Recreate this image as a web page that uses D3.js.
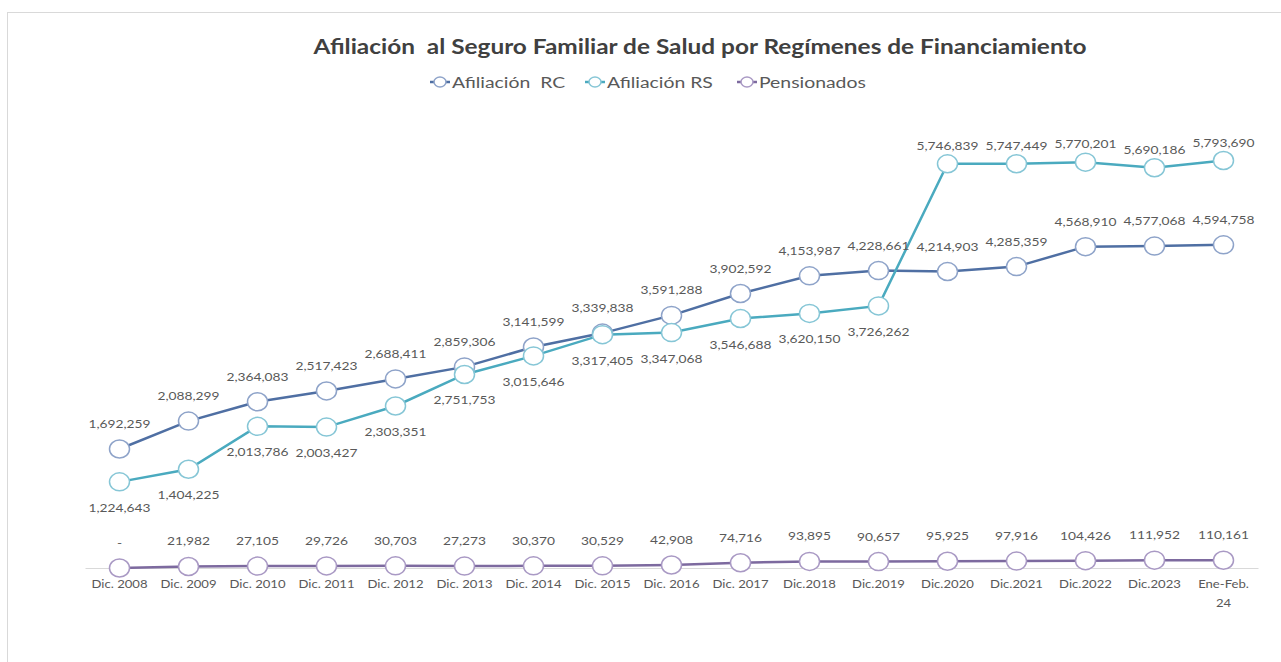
<!DOCTYPE html>
<html>
<head>
<meta charset="utf-8">
<script src="https://cdn.jsdelivr.net/npm/d3@7"></script>
<style>
  html, body { margin: 0; padding: 0; background: #fff; }
  svg { display: block; font-family: Lato, "Open Sans", sans-serif; }
  text { white-space: pre; }
</style>
</head>
<body>
<div id="chart"></div>
<script>
const categories = ['Dic. 2008', 'Dic. 2009', 'Dic. 2010', 'Dic. 2011', 'Dic. 2012', 'Dic. 2013',
  'Dic. 2014', 'Dic. 2015', 'Dic. 2016', 'Dic. 2017', 'Dic.2018', 'Dic.2019', 'Dic.2020',
  'Dic.2021', 'Dic.2022', 'Dic.2023', 'Ene-Feb. 24'];

const afiliacionRC = [1692259, 2088299, 2364083, 2517423, 2688411, 2859306, 3141599, 3339838,
  3591288, 3902592, 4153987, 4228661, 4214903, 4285359, 4568910, 4577068, 4594758];

const afiliacionRS = [1224643, 1404225, 2013786, 2003427, 2303351, 2751753, 3015646, 3317405,
  3347068, 3546688, 3620150, 3726262, 5746839, 5747449, 5770201, 5690186, 5793690];

const pensionados = [0, 21982, 27105, 29726, 30703, 27273, 30370, 30529, 42908, 74716, 93895,
  90657, 95925, 97916, 104426, 111952, 110161];

const seriesNames = ['Afiliación  RC', 'Afiliación RS', 'Pensionados'];

const W = 1281, H = 662;
const SX = 1.25; // the original text is drawn wide
const svg = d3.select('#chart').append('svg').attr('width', W).attr('height', H);

// chart frame
svg.append('rect')
  .attr('x', 7.5).attr('y', 12.5).attr('width', W).attr('height', H)
  .attr('fill', 'none').attr('stroke', '#d9d9d9');

const x = d3.scaleBand().domain(categories).range([85, 1258]);
const y = d3.scaleLinear().domain([0, 6000000]).range([568, 146]);
const fmt = d3.format(',');

const series = [
  { name: seriesNames[0], values: afiliacionRC, line: '#4f6fa3', marker: '#8ea3c9' },
  { name: seriesNames[1], values: afiliacionRS, line: '#4aaabf', marker: '#86c6d6' },
  { name: seriesNames[2], values: pensionados, line: '#7d6a9f', marker: '#a999c4' }
];

// x axis
const xAxis = svg.append('g')
  .attr('transform', `translate(0,${y(0)})`)
  .call(d3.axisBottom(x).tickSize(0).tickPadding(13));
xAxis.select('.domain').attr('stroke', '#d9d9d9');
xAxis.selectAll('.tick text')
  .attr('fill', '#595959')
  .attr('font-size', 10.5)
  .attr('font-family', 'Lato, sans-serif')
  .attr('transform', `scale(${SX},1)`)
  .each(function (d) {
    if (d === 'Ene-Feb. 24') {
      const t = d3.select(this).text(null);
      t.append('tspan').attr('x', 0).text('Ene-Feb.');
      t.append('tspan').attr('x', 0).attr('dy', '1.75em').text('24');
    }
  });

const cx = (i) => x(categories[i]) + x.bandwidth() / 2;

const line = d3.line()
  .x((d, i) => cx(i))
  .y((d) => y(d));

series.forEach((s) => {
  svg.append('path')
    .datum(s.values)
    .attr('fill', 'none')
    .attr('stroke', s.line)
    .attr('stroke-width', 2.5)
    .attr('d', line);
});

series.forEach((s) => {
  svg.append('g')
    .selectAll('ellipse')
    .data(s.values)
    .join('ellipse')
    .attr('cx', (d, i) => cx(i))
    .attr('cy', (d) => y(d))
    .attr('rx', 10)
    .attr('ry', 9)
    .attr('fill', '#fff')
    .attr('stroke', s.marker)
    .attr('stroke-width', 1.5);
});

// data labels
const labels = svg.append('g')
  .attr('font-size', 11)
  .attr('fill', '#595959')
  .attr('text-anchor', 'middle');

series.forEach((s, si) => {
  labels.append('g')
    .selectAll('text')
    .data(s.values)
    .join('text')
    .attr('transform', (d, i) => {
      let ty = y(d) - 21;
      // RS goes under its point while it is below RC
      if (si === 1) ty = d < afiliacionRC[i] ? y(d) + 30 : y(d) - 14;
      return `translate(${cx(i)},${ty}) scale(${SX},1)`;
    })
    .text((d) => (d === 0 ? '-' : fmt(d)));
});

// title
svg.append('text')
  .attr('transform', `translate(700,54) scale(1.22,1)`)
  .attr('text-anchor', 'middle')
  .attr('font-size', 20)
  .attr('font-weight', 'bold')
  .attr('fill', '#404040')
  .text('Afiliación  al Seguro Familiar de Salud por Regímenes de Financiamiento');

// legend
const legendX = [430, 585, 737];
series.forEach((s, i) => {
  const g = svg.append('g').attr('transform', `translate(${legendX[i]},82)`);
  g.append('line').attr('x1', 0).attr('x2', 20).attr('y1', 0).attr('y2', 0)
    .attr('stroke', s.line).attr('stroke-width', 2.5);
  g.append('ellipse').attr('cx', 10).attr('cy', 0).attr('rx', 6).attr('ry', 5)
    .attr('fill', '#fff').attr('stroke', s.marker).attr('stroke-width', 1.5);
  g.append('text')
    .attr('transform', `translate(22,5.5) scale(${SX},1)`)
    .attr('font-size', 15.5).attr('fill', '#595959')
    .text(s.name);
});
</script>
</body>
</html>
